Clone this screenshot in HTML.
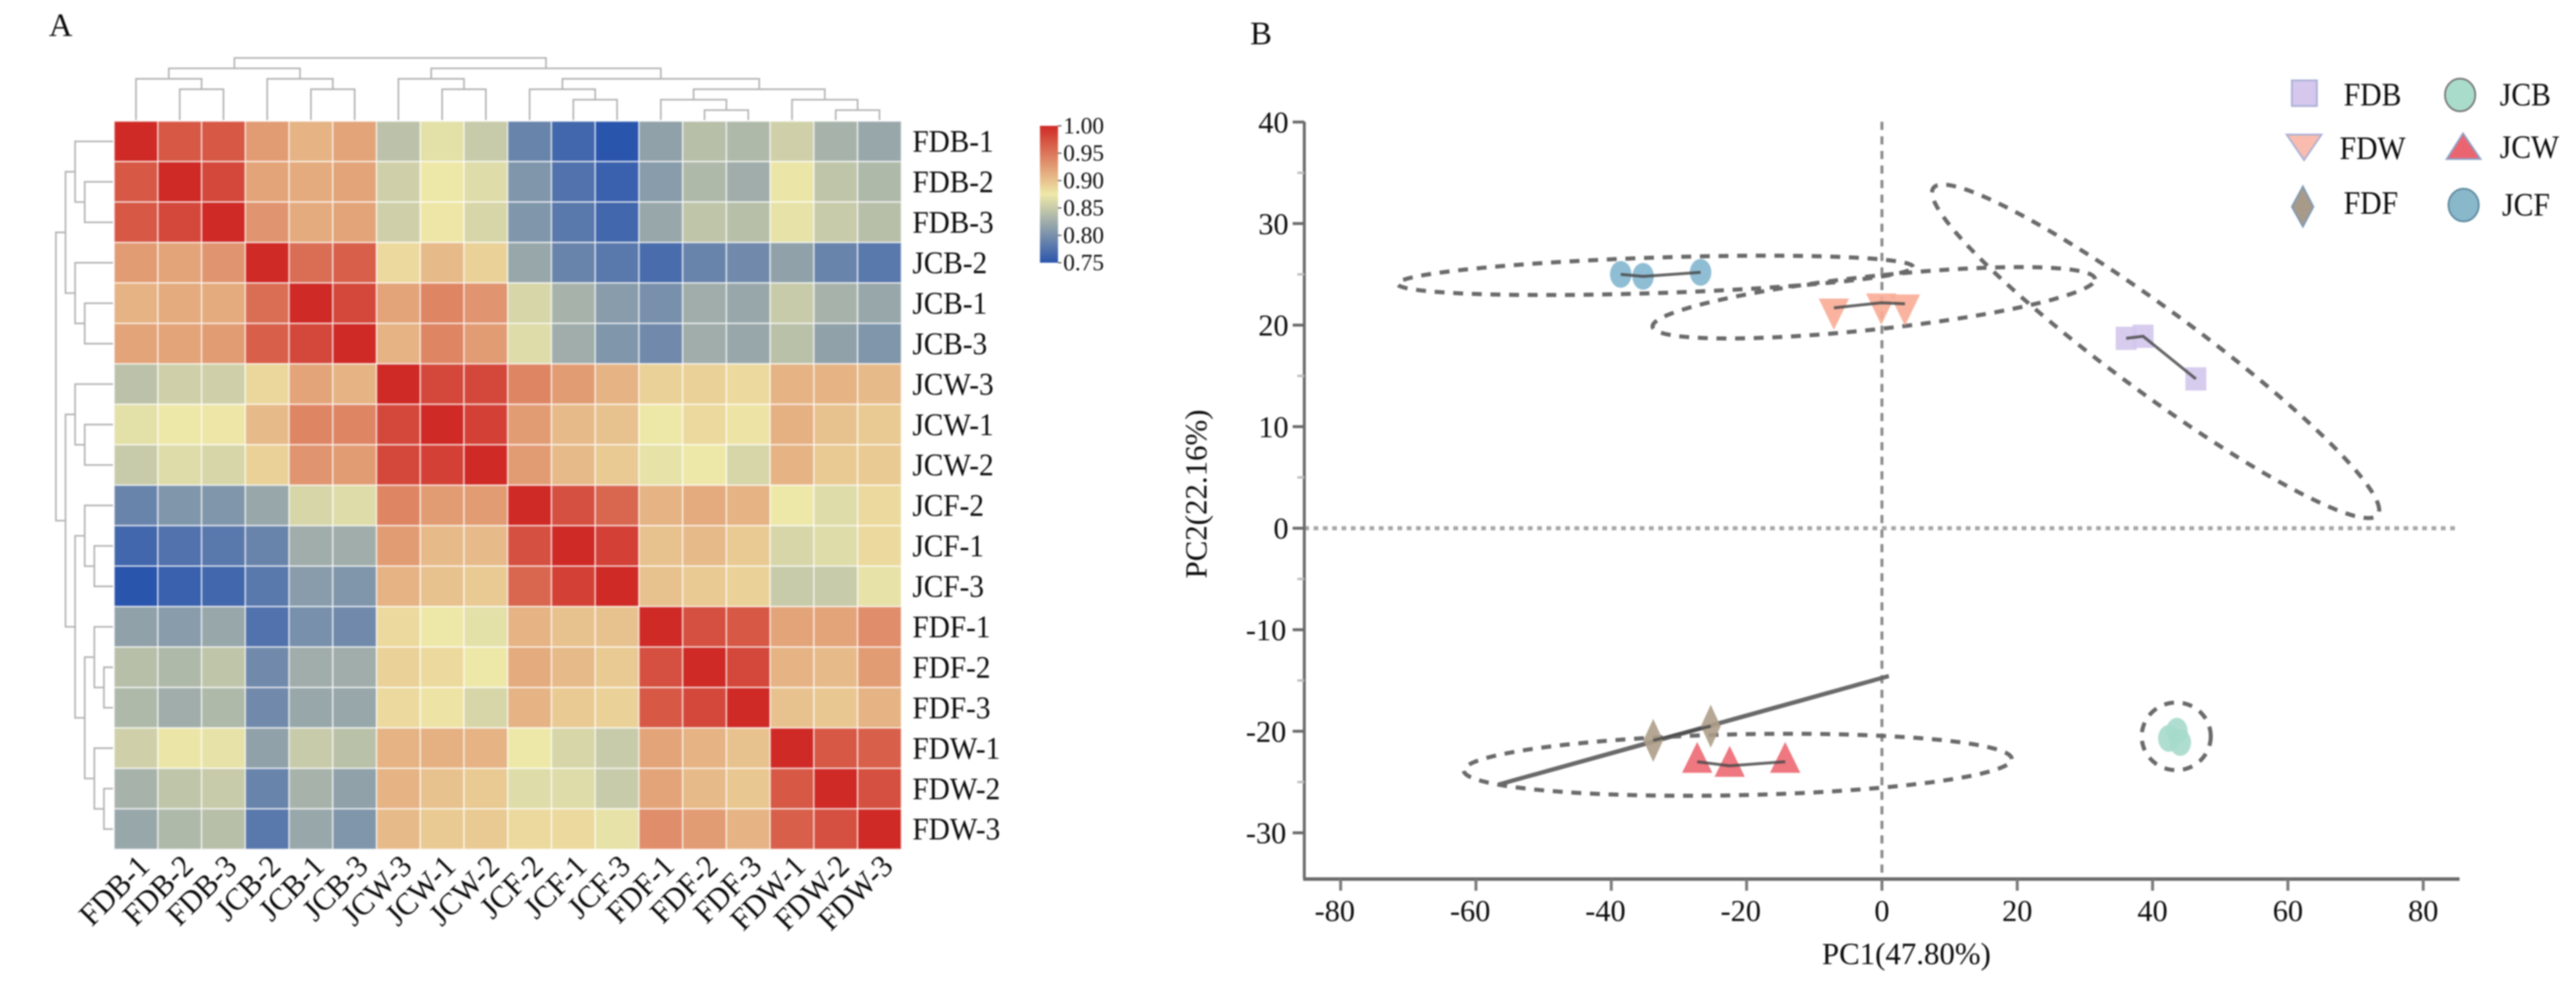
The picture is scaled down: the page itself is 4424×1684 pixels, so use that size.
<!DOCTYPE html>
<html lang="en">
<head>
<meta charset="utf-8">
<title>Heatmap and PCA</title>
<style>
html,body{margin:0;padding:0;background:#fff;}
svg{display:block;filter:blur(1.3px);}
text{font-family:"Liberation Serif",serif;fill:#0c0c0c;}
</style>
</head>
<body>
<svg id="figure" xmlns="http://www.w3.org/2000/svg" width="4424" height="1684" viewBox="0 0 4424 1684">
  <rect x="0" y="0" width="4424" height="1684" fill="#ffffff"/>
  <defs><linearGradient id="colorbar-gradient" x1="0" y1="0" x2="0" y2="1"></linearGradient></defs>
  <text x="84" y="62" font-size="56">A</text>
  <text x="2147" y="76" font-size="56">B</text>
  <text x="3274" y="1655" font-size="53" text-anchor="middle">PC1(47.80%)</text>
  <text transform="translate(2072 848) rotate(-90)" font-size="53" text-anchor="middle">PC2(22.16%)</text>
  <g id="heatmap"></g>
  <g id="dendrograms"></g>
  <g id="heat-labels"></g>
  <g id="colorbar"></g>
  <g id="pca"></g>
  <g id="legend">
    <g>
      <rect x="3936" y="138" width="43" height="44" fill="#d5c8ec" stroke="#a9b0d6" stroke-width="3"/>
      <text class="squeeze" x="4025" y="181" font-size="56">FDB</text>
    </g>
    <g>
      <polygon points="3927,231 3987,231 3957,275" fill="#f9bcae" stroke="#a9b0d6" stroke-width="3"/>
      <text class="squeeze" x="4018" y="273" font-size="56">FDW</text>
    </g>
    <g>
      <polygon points="3955,320 3973,355 3955,389 3936,355" fill="#a89a88" stroke="#7f9ab5" stroke-width="3"/>
      <text class="squeeze" x="4025" y="367" font-size="56">FDF</text>
    </g>
    <g>
      <ellipse cx="4225" cy="163" rx="26" ry="28" fill="#aadccc" stroke="#777777" stroke-width="3"/>
      <text class="squeeze" x="4293" y="181" font-size="56">JCB</text>
    </g>
    <g>
      <polygon points="4230,229 4260,273 4202,273" fill="#ea6570" stroke="#8fa0c8" stroke-width="3"/>
      <text class="squeeze" x="4293" y="271" font-size="56">JCW</text>
    </g>
    <g>
      <ellipse cx="4231" cy="352" rx="26" ry="28" fill="#8ab8cb" stroke="#5f8a9f" stroke-width="3"/>
      <text class="squeeze" x="4297" y="370" font-size="56">JCF</text>
    </g>
  </g>
</svg>
<script>
// ---- Heatmap data ----
const sampleNames = ['FDB-1','FDB-2','FDB-3','JCB-2','JCB-1','JCB-3','JCW-3','JCW-1','JCW-2','JCF-2','JCF-1','JCF-3','FDF-1','FDF-2','FDF-3','FDW-1','FDW-2','FDW-3'];
const heatValues = [
  [1.00,.970,.970,.925,.910,.920,.843,.868,.850,.790,.765,.750,.815,.840,.835,.855,.830,.820],
  [.970,1.00,.980,.920,.915,.920,.855,.875,.865,.805,.775,.760,.810,.835,.825,.873,.845,.835],
  [.970,.980,1.00,.930,.915,.920,.855,.876,.860,.805,.780,.765,.820,.845,.840,.870,.850,.840],
  [.925,.920,.930,1.00,.955,.965,.885,.905,.890,.820,.790,.780,.770,.790,.795,.815,.790,.780],
  [.910,.915,.915,.955,1.00,.980,.920,.940,.930,.860,.830,.810,.800,.825,.820,.850,.830,.820],
  [.920,.920,.925,.965,.980,1.00,.910,.940,.925,.865,.825,.805,.795,.825,.820,.842,.815,.805],
  [.843,.855,.855,.887,.920,.910,1.00,.980,.980,.940,.925,.910,.890,.890,.885,.910,.910,.905],
  [.868,.875,.876,.905,.940,.940,.980,1.00,.985,.925,.905,.900,.875,.885,.878,.912,.900,.895],
  [.850,.865,.860,.890,.930,.925,.980,.985,1.00,.925,.905,.895,.870,.875,.860,.910,.895,.895],
  [.790,.805,.805,.820,.860,.865,.940,.925,.925,1.00,.975,.960,.910,.915,.910,.875,.865,.885],
  [.765,.775,.780,.790,.825,.825,.925,.905,.905,.975,1.00,.985,.900,.905,.895,.860,.865,.885],
  [.750,.760,.765,.780,.810,.805,.910,.900,.895,.960,.985,1.00,.900,.895,.890,.850,.850,.870],
  [.815,.810,.820,.775,.800,.795,.885,.875,.868,.910,.900,.900,1.00,.975,.970,.920,.920,.935],
  [.840,.835,.845,.795,.825,.825,.890,.885,.875,.915,.905,.895,.975,1.00,.980,.910,.905,.925],
  [.835,.825,.835,.795,.820,.820,.885,.878,.860,.910,.895,.890,.970,.980,1.00,.900,.897,.910],
  [.855,.873,.870,.815,.850,.842,.910,.912,.910,.875,.860,.850,.920,.910,.900,1.00,.970,.965],
  [.830,.845,.850,.790,.830,.815,.910,.900,.895,.865,.865,.850,.920,.905,.897,.970,1.00,.975],
  [.820,.835,.840,.780,.820,.805,.905,.895,.895,.885,.885,.870,.935,.925,.910,.965,.975,1.00]
];
// Cluster tree: indices into sampleNames, nesting = merge order
const clusterTree = [[[0,[1,2]],[3,[4,5]]],[[6,[7,8]],[[9,[10,11]],[[12,[13,14]],[15,[16,17]]]]]];
const colorbarTicks = [1.00,0.95,0.90,0.85,0.80,0.75];

// ---- PCA data (PC1 / PC2 scores) ----
const xTicks = [-80,-60,-40,-20,0,20,40,60,80];
const yTicks = [40,30,20,10,0,-10,-20,-30];
const yMinorTicks = [35,25,15,5,-5,-15,-25];
const fdbPC1 = [36.1,38.6,46.4];
const fdbPC2 = [18.7,18.9,14.7];
const fdwPC1 = [-7.1,-0.1,3.4];
const fdwPC2 = [21.7,22.2,22.1];
const fdfPC1 = [-33.8,-25.3];
const fdfPC2 = [-20.9,-19.5];
const jcbPC1 = [43.6,42.4,44.1];
const jcbPC2 = [-20.0,-20.7,-21.1];
const jcwPC1 = [-27.3,-22.5,-14.3];
const jcwPC2 = [-23.0,-23.4,-23.0];
const jcfPC1 = [-38.6,-35.3,-26.8];
const jcfPC2 = [25.0,24.8,25.2];
// Confidence ellipses in PC units: centre, semi-axis vector, conjugate half-height
const ellipseGroups = ['fdb','fdw','fdf','jcb','jcw','jcf'];
const ellipseCenterPC1 = [40.45,-1.2,-27.8,43.5,-21.3,-33.5];
const ellipseCenterPC2 = [17.42,22.2,-19.9,-20.5,-23.3,24.9];
const ellipseAxisPC1 = [33.05,32.7,28.83,5.1,40.5,38.1];
const ellipseAxisPC2 = [-15.63,2.32,5.34,0,0.57,0.83];
const ellipseHalfHeight = [5.05,2.64,0.02,3.33,3.0,1.75];

// ---- Scales ----
const NS = 'http://www.w3.org/2000/svg';
const heatLeft = 196, heatTop = 208, cellW = 75.11, cellH = 69.44;
const bandX = function (i) { return heatLeft + cellW * i; };
const bandY = function (i) { return heatTop + cellH * i; };
const xScale = function (v) { return 3232 + 11.62 * v; };
const yScale = function (v) { return 906.7 - 17.43 * v; };
const plotLeft = 2240, plotRight = 4224, plotTop = 209, plotBottom = 1509;
const colorbarY = function (v) { return 216 + (1 - v) * 940; };

function make(parent, tag, attrs) {
  const el = document.createElementNS(NS, tag);
  Object.keys(attrs).forEach(function (k) { el.setAttribute(k, attrs[k]); });
  parent.appendChild(el);
  return el;
}
function hex(c) { return [parseInt(c.slice(1,3),16),parseInt(c.slice(3,5),16),parseInt(c.slice(5,7),16)]; }
function mix(a, b, t) {
  const ca = hex(a), cb = hex(b);
  return 'rgb(' + ca.map(function (x, i) { return Math.round(x + (cb[i] - x) * t); }).join(',') + ')';
}
function colorFor(v) {
  if (v <= 0.875) { return mix('#2a55ad', '#eee8a8', (v - 0.75) / 0.125); }
  return mix('#eee8a8', '#cf2a26', (v - 0.875) / 0.125);
}
function squeeze(el, factor) {
  el.setAttribute('textLength', (el.getComputedTextLength() * factor).toFixed(1));
  el.setAttribute('lengthAdjust', 'spacingAndGlyphs');
}

// ---- Heatmap cells ----
const heatG = document.getElementById('heatmap');
heatValues.forEach(function (row, r) {
  row.forEach(function (v, c) {
    const el = make(heatG, 'rect', {x: bandX(c), y: bandY(r), width: cellW, height: cellH, fill: colorFor(v), stroke: '#ffffff', 'stroke-width': 2.5, 'stroke-opacity': 0.65});
    
    
  });
});

// ---- Heatmap labels ----
const labelG = document.getElementById('heat-labels');
sampleNames.forEach(function (name, i) {
  const rowLabel = make(labelG, 'text', {x: 1567, y: bandY(i) + cellH / 2 + 18, 'font-size': 54});
  rowLabel.textContent = name;
  
  
  squeeze(rowLabel, 0.93);
  const cx = bandX(i) + cellW / 2 + 26;
  const colLabel = make(labelG, 'text', {transform: 'translate(' + cx + ' 1490) rotate(-45)', 'font-size': 54, 'text-anchor': 'end'});
  colLabel.textContent = name;
  
  
  squeeze(colLabel, 0.96);
});
document.querySelectorAll('#legend text.squeeze').forEach(function (el) { squeeze(el, 0.91); });

// ---- Dendrograms ----
const dendroG = document.getElementById('dendrograms');
const topLevel = function (d) { return d === null ? heatTop - 2 : 99.5 + 17.9 * d; };
const leftLevel = function (d) { return d === null ? heatLeft - 2 : 96 + 16.5 * d; };
function drawDendro(node, depth, side) {
  if (typeof node === 'number') {
    return {pos: (side === 'top' ? bandX(node) + cellW / 2 : bandY(node) + cellH / 2), depth: null};
  }
  const a = drawDendro(node[0], depth + 1, side);
  const b = drawDendro(node[1], depth + 1, side);
  const lv = side === 'top' ? topLevel : leftLevel;
  const h = lv(depth);
  const pts = side === 'top'
    ? [[a.pos, lv(a.depth)], [a.pos, h], [b.pos, h], [b.pos, lv(b.depth)]]
    : [[lv(a.depth), a.pos], [h, a.pos], [h, b.pos], [lv(b.depth), b.pos]];
  const el = make(dendroG, 'polyline', {points: pts.map(function (p) { return p.join(','); }).join(' '), fill: 'none', stroke: '#b3b3b3', 'stroke-width': 2.8});
  
  
  return {pos: (a.pos + b.pos) / 2, depth: depth};
}
drawDendro(clusterTree, 0, 'top');
drawDendro(clusterTree, 0, 'left');

// ---- Colorbar ----
const grad = document.getElementById('colorbar-gradient');
[1, 0.875, 0.75].forEach(function (v) {
  const stop = document.createElementNS(NS, 'stop');
  stop.setAttribute('offset', ((1 - v) * 4 * 100) + '%');
  stop.setAttribute('stop-color', colorFor(v));
  grad.appendChild(stop);
});
const cbG = document.getElementById('colorbar');
const cbRect = make(cbG, 'rect', {x: 1786, y: colorbarY(1), width: 31, height: colorbarY(0.75) - colorbarY(1), fill: 'url(#colorbar-gradient)'});


colorbarTicks.forEach(function (v) {
  const tick = make(cbG, 'line', {x1: 1817, x2: 1823, y1: colorbarY(v), y2: colorbarY(v), stroke: '#555', 'stroke-width': 2});
  
  
  const lab = make(cbG, 'text', {x: 1826, y: colorbarY(v) + 13, 'font-size': 40});
  lab.textContent = v.toFixed(2);
  
  
});

// ---- PCA axes ----
const pcaG = document.getElementById('pca');
const vRef = make(pcaG, 'line', {x1: xScale(0), x2: xScale(0), y1: plotTop, y2: plotBottom, stroke: '#8a8a8a', 'stroke-width': 5, 'stroke-dasharray': '14 11'});


const hRef = make(pcaG, 'line', {x1: plotLeft, x2: plotRight, y1: yScale(0), y2: yScale(0), stroke: '#a6a6a6', 'stroke-width': 7, 'stroke-dasharray': '8 8'});


const yAxis = make(pcaG, 'line', {x1: plotLeft, x2: plotLeft, y1: plotTop, y2: plotBottom, stroke: '#6a6a6a', 'stroke-width': 5});


const xAxis = make(pcaG, 'line', {x1: plotLeft - 2, x2: plotRight, y1: plotBottom, y2: plotBottom, stroke: '#6a6a6a', 'stroke-width': 6});


yTicks.forEach(function (v) {
  const tick = make(pcaG, 'line', {x1: plotLeft - 20, x2: plotLeft, y1: yScale(v), y2: yScale(v), stroke: '#6a6a6a', 'stroke-width': 5});
  
  
  const lab = make(pcaG, 'text', {x: v < 0 ? 2209 : 2213, y: yScale(v) + 18, 'font-size': 52, 'text-anchor': 'end'});
  lab.textContent = String(v);
  
  
});
yMinorTicks.forEach(function (v) {
  const tick = make(pcaG, 'line', {x1: plotLeft - 12, x2: plotLeft, y1: yScale(v), y2: yScale(v), stroke: '#bdbdbd', 'stroke-width': 4});
  
  
});
xTicks.forEach(function (v) {
  const tick = make(pcaG, 'line', {x1: xScale(v), x2: xScale(v), y1: plotBottom, y2: plotBottom + 20, stroke: '#7a7a7a', 'stroke-width': 5});
  
  
  const lab = make(pcaG, 'text', {x: xScale(v) + (v < 0 ? -10 : 0), y: 1581, 'font-size': 52, 'text-anchor': 'middle'});
  lab.textContent = String(v);
  
  
});

// ---- Confidence ellipses ----
ellipseGroups.forEach(function (g, i) {
  let d = '';
  for (let k = 0; k < 120; k++) {
    const t = k / 120 * Math.PI * 2;
    const px = xScale(ellipseCenterPC1[i] + ellipseAxisPC1[i] * Math.cos(t));
    const py = yScale(ellipseCenterPC2[i] + ellipseAxisPC2[i] * Math.cos(t) + ellipseHalfHeight[i] * Math.sin(t));
    d += (k === 0 ? 'M' : 'L') + px.toFixed(1) + ' ' + py.toFixed(1);
  }
  const el = make(pcaG, 'path', {d: d + 'Z', fill: 'none', stroke: '#6a6a6a', 'stroke-width': 7});
  if (g !== 'fdf') {
    el.setAttribute('stroke-dasharray', '17 15');
  }
  
  
});

// ---- Group connector lines and markers ----
function markerShape(group, shape, fill, x, y) {
  let el;
  if (shape === 'square') {
    el = make(group, 'rect', {x: x - 18, y: y - 20, width: 36, height: 40, fill: fill});
  } else if (shape === 'down') {
    el = make(group, 'polygon', {points: (x - 26) + ',' + (y - 16) + ' ' + (x + 26) + ',' + (y - 16) + ' ' + x + ',' + (y + 38), fill: fill});
  } else if (shape === 'up') {
    el = make(group, 'polygon', {points: x + ',' + (y - 34) + ' ' + (x + 26) + ',' + (y + 19) + ' ' + (x - 26) + ',' + (y + 19), fill: fill});
  } else if (shape === 'diamond') {
    el = make(group, 'polygon', {points: x + ',' + (y - 37) + ' ' + (x + 17) + ',' + y + ' ' + x + ',' + (y + 37) + ' ' + (x - 17) + ',' + y, fill: fill});
  } else {
    el = make(group, 'ellipse', {cx: x, cy: y, rx: 18.5, ry: 23, fill: fill});
  }
  el.setAttribute('fill-opacity', '0.9');
  return el;
}
function drawSeries(name, xs, ys, shape, fill) {
  const g = make(pcaG, 'g', {});
  
  
  xs.forEach(function (x, i) {
    const m = markerShape(g, shape, fill, xScale(x), yScale(ys[i]));
    
    
  });
  const line = make(g, 'polyline', {points: xs.map(function (x, i) { return xScale(x) + ',' + yScale(ys[i]); }).join(' '), fill: 'none', stroke: '#4a4a4a', 'stroke-width': 5, 'stroke-opacity': name === 'jcb' ? 0 : 0.85});
  
  
}
drawSeries('fdb', fdbPC1, fdbPC2, 'square', '#d3c6ec');
drawSeries('fdw', fdwPC1, fdwPC2, 'down', '#f8ab95');
drawSeries('fdf', fdfPC1, fdfPC2, 'diamond', '#ad9d88');
drawSeries('jcb', jcbPC1, jcbPC2, 'circle', '#a6dacb');
drawSeries('jcw', jcwPC1, jcwPC2, 'up', '#ec6872');
drawSeries('jcf', jcfPC1, jcfPC2, 'circle', '#83b6cf');
</script>
</body>
</html>
